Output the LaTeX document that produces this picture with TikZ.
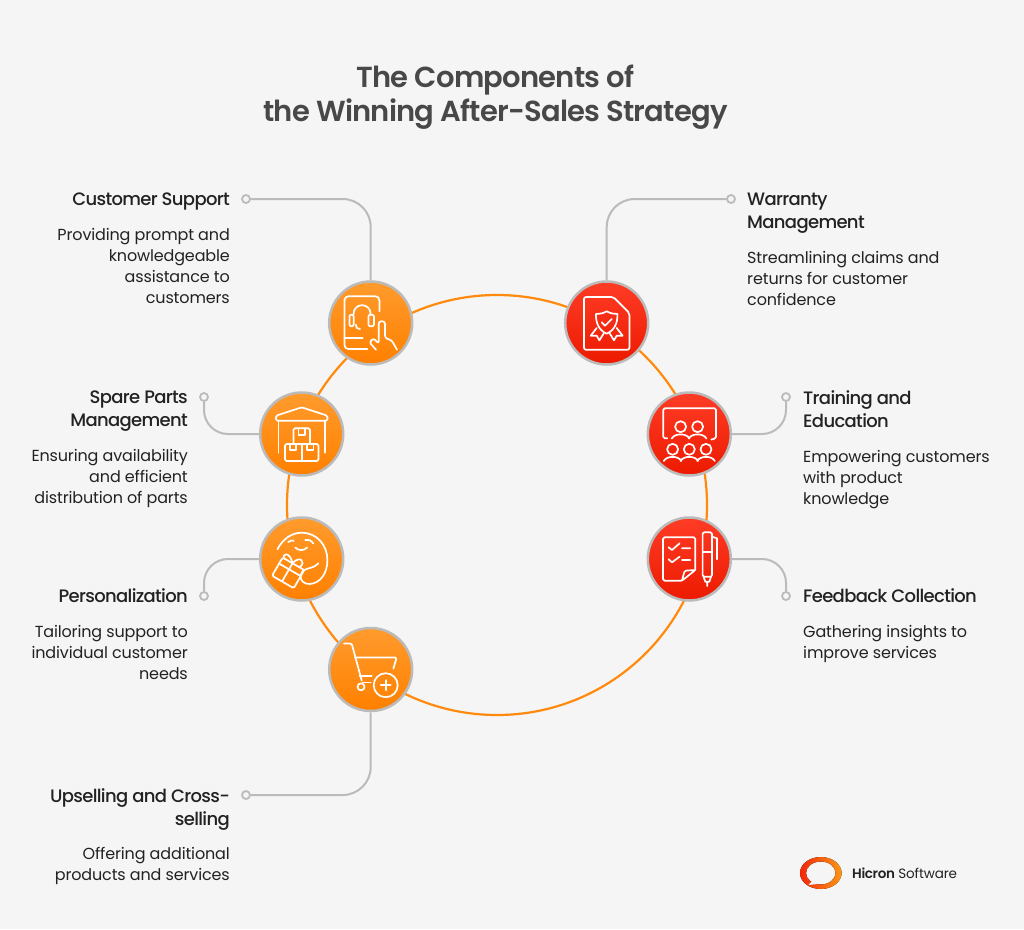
\documentclass[tikz,border=0pt]{standalone}
\usepackage{fontspec}
\setmainfont{Poppins}[LetterSpace=-0.9]
\newfontfamily\headfont{Poppins Medium}[LetterSpace=-3.7]
\newfontfamily\titlefont{Poppins SemiBold}[LetterSpace=-2.7]
\usetikzlibrary{positioning}
\usetikzlibrary{arrows.meta}
\definecolor{pagebg}{HTML}{F5F5F5}
\definecolor{ringline}{HTML}{FF8A0D}
\definecolor{linkgray}{HTML}{BBBBBB}
\definecolor{textdark}{HTML}{222222}
\definecolor{titlegray}{HTML}{484848}
\tikzset{
  % stations on the ring
  station/.style={circle, draw=linkgray, line width=2.5pt, minimum size=83pt, inner sep=0pt},
  warm/.style={station, top color={rgb,255:red,255;green,155;blue,45}, bottom color={rgb,255:red,255;green,128;blue,0}},
  hot/.style={station, top color={rgb,255:red,255;green,60;blue,38}, bottom color={rgb,255:red,236;green,26;blue,0}},
  dot/.style={circle, draw=linkgray, fill=pagebg, line width=1.8pt, minimum size=8pt, inner sep=0pt},
  link/.style={draw=linkgray, line width=2pt},
  iconline/.style={draw=white, line width=1.7pt, line cap=round, line join=round},
  % texts
  head/.style={inner sep=0pt, text=textdark, font=\headfont\fontsize{18}{23}\selectfont,
    execute at begin node=\strut, execute at end node=\strut},
  body/.style={inner sep=0pt, text=textdark, font=\fontsize{16}{21}\selectfont,
    execute at begin node=\strut, execute at end node=\strut},
  % icons
  pics/headset/.style={code={
    \draw[iconline, rounded corners=4pt] (8.7,-11.7) -- (8.7,-26.7) -- (-26.3,-26.7) -- (-26.3,26) -- (-3.3,26);
    \draw[iconline] (-26.3,15) -- (-8,15);
    \draw[iconline] (-17.3,-8.3) .. controls (-17.3,-21) and (0,-21) .. (0,-8.3);
    \draw[iconline, rounded corners=2pt] (-17,-8.3) -- (-21.3,-8.3) -- (-21.3,3.3) -- (-17,3.3) -- cycle;
    \draw[iconline, rounded corners=2pt] (-2.3,-8.3) -- (3.3,-8.3) -- (3.3,3.3) -- (-2.3,3.3) -- cycle;
    \draw[iconline] (-14.7,1.7) .. controls (-14.7,5) and (-13,6) .. (-10.7,6);
    \draw[iconline, rounded corners=2.5pt] (5.3,26.7) -- (-1.3,19.3) -- (2.7,15.2) -- (8,20.7) -- (8,-1.7) -- (14.3,-1.7) -- (14.3,15) -- (21,17.3) -- (26.3,26.7);
  }},
  pics/warehouse/.style={code={
    \draw[iconline, rounded corners=1.5pt] (-25.7,-13.3) -- (-25.7,-18.3) -- (0,-26.7) -- (25.7,-18.3) -- (25.7,-13.3) -- cycle;
    \draw[iconline] (-23.3,-13.3) -- (-23.3,18.7) (23.3,-13.3) -- (23.3,18.7);
    \draw[iconline, rounded corners=1.5pt] (-8.3,10) -- (-8.3,-5.7) -- (8.3,-5.7) -- (8.3,10);
    \draw[iconline, rounded corners=1.5pt] (-16.7,10) rectangle (16.7,27);
    \draw[iconline] (0,10) -- (0,27);
    \draw[iconline] (-3.3,-5.7) -- (-3.3,1) -- (3.3,1) -- (3.3,-5.7);
    \draw[iconline] (-11.7,10) -- (-11.7,16) -- (-5.7,16) -- (-5.7,10);
    \draw[iconline] (5,10) -- (5,16) -- (11.7,16) -- (11.7,10);
  }},
  pics/hug/.style={code={
    \draw[iconline] (-24.3,-9.7) .. controls (-19,-20) and (-10,-26.3) .. (0,-26.3) .. controls (15,-26.3) and (25.7,-14) .. (25.7,1) .. controls (25.7,14) and (19,24) .. (8.3,25) .. controls (2,25.5) and (-2,21) .. (-1,16) .. controls (0,11) and (5,10) .. (8,9) .. controls (12,8) and (15,6.5) .. (16.7,4.3);
    \draw[iconline] (-6.5,-11.5) .. controls (-3,-8) and (2,-8) .. (5.5,-11.5);
    \draw[iconline] (-13.5,-17) .. controls (-11,-18.8) and (-9,-18.8) .. (-8,-18.2);
    \draw[iconline] (3.5,-19) .. controls (7,-19.5) and (10,-18.5) .. (11.5,-15.5);
    \begin{scope}[shift={(-12.3,11.7)}, rotate=-30]
      \draw[iconline, rounded corners=1.5pt] (-12.5,-8) rectangle (12.5,13);
      \draw[iconline] (-12.5,-1) -- (12.5,-1) (-1,-8) -- (-1,13);
      \draw[iconline] (-1,-8) .. controls (-10,-18) and (-16,-10) .. (-10,-8);
      \draw[iconline] (-1,-8) .. controls (1,-19) and (11,-16) .. (7,-8);
    \end{scope}
  }},
  pics/cart/.style={code={
    \draw[iconline, rounded corners=1.5pt] (-26.7,-26) -- (-19,-26) -- (-9,11);
    \draw[iconline, rounded corners=1.5pt] (-15.7,-12) -- (26,-12) -- (22.7,-1);
    \draw[iconline] (-11,6.3) -- (1,6.3) (-8,13) -- (0,13);
    \draw[iconline] (-9.7,17.3) circle (3.5);
    \draw[iconline] (15,15.7) circle (12);
    \draw[iconline] (10,15.7) -- (20,15.7) (15,10.7) -- (15,20.7);
  }},
  pics/certificate/.style={code={
    \draw[iconline, rounded corners=2pt] (-22.7,-26) -- (6.7,-26) -- (22.7,-10) -- (22.7,26.7) -- (-22.7,26.7) -- cycle;
    \draw[iconline] (0,-11.7) .. controls (-4,-9.5) and (-7,-9) .. (-10.7,-9) .. controls (-11,0) and (-8,7) .. (0,10.7) .. controls (8,7) and (11,0) .. (10.7,-9) .. controls (7,-9) and (4,-9.5) .. (0,-11.7);
    \draw[iconline] (-5,-0.7) -- (-1.7,2.7) -- (5,-4);
    \draw[iconline] (-10,5) -- (-16,12.7) -- (-10,12.7) -- (-7.3,17.3) -- (-2.7,10);
    \draw[iconline] (10,5) -- (16,12.7) -- (10,12.7) -- (7.3,17.3) -- (2.7,10);
  }},
  pics/audience/.style={code={
    \draw[iconline, rounded corners=1.5pt] (-22,4.3) -- (-26,4.3) -- (-26,-25.7) -- (26.7,-25.7) -- (26.7,4.3) -- (22,5.5);
    \foreach \hx in {-8.7,8.3} {
      \draw[iconline] (\hx,-7.3) circle (5.5);
      \draw[iconline] (\hx-8.8,4.5) .. controls (\hx-6,-1) and (\hx+6,-1) .. (\hx+8.8,4.5);
    }
    \foreach \hx in {-16.7,0,16.7} {
      \draw[iconline] (\hx,15.3) circle (5.5);
      \draw[iconline] (\hx-8.8,27) .. controls (\hx-6,21.5) and (\hx+6,21.5) .. (\hx+8.8,27);
    }
  }},
  pics/survey/.style={code={
    \draw[iconline, rounded corners=1.5pt] (6,11) -- (6,-21.7) -- (-26.3,-21.7) -- (-26.3,21.7) -- (-7.3,21.7) -- (6,11) -- (-4.7,11.7) -- (-7.3,21.7);
    \draw[iconline] (-20.7,-11.7) -- (-17.3,-9) -- (-9.7,-15.7) (-7.3,-10.7) -- (1,-10.7);
    \draw[iconline] (-20.7,0.3) -- (-17.3,3.3) -- (-9.7,-2.3) (-7.3,1) -- (1,1);
    \draw[iconline, rounded corners=1.5pt] (13.3,17.7) -- (13.3,-26.7) -- (22.7,-26.7) -- (22.7,17.7) -- cycle;
    \draw[iconline] (13.3,-7.3) -- (22.7,-7.3);
    \draw[iconline] (22.7,-22.3) -- (27.7,-20.7) -- (27.7,0.3);
    \draw[iconline] (14.3,17.7) -- (16,22.7) -- (20,22.7) -- (21.7,17.7) (18,22.7) -- (18,27);
  }},
}

\begin{document}
\begin{tikzpicture}[x=1pt, y=-1pt]
  \useasboundingbox (0,0) rectangle (1024,929);
  \fill[pagebg] (0,0) rectangle (1024,929);

  % title
  \node[inner sep=0pt, text=titlegray, align=center, font=\titlefont\fontsize{29}{34}\selectfont] (title) at (495.5,97) {The Components of\\the Winning After-Sales Strategy};

  % ring
  \coordinate (hub) at (497,505);
  \draw[draw=ringline, line width=2.2pt] (hub) circle (210);

  % stations
  \node[warm] (support) at (370.7,323) {};
  \node[warm] (parts) at (301.7,434) {};
  \node[warm] (personal) at (301.7,559) {};
  \node[warm] (upsell) at (370.7,669.5) {};
  \node[hot] (warranty) at (606.7,323) {};
  \node[hot] (training) at (689.3,434) {};
  \node[hot] (feedback) at (689.3,559) {};

  \pic at (support) {headset};
  \pic at (parts) {warehouse};
  \pic at (personal) {hug};
  \pic at (upsell) {cart};
  \pic at (warranty) {certificate};
  \pic at (training) {audience};
  \pic at (feedback) {survey};

  % end dots
  \node[dot] (supportdot) at (246,199) {};
  \node[dot] (partsdot) at (204,397) {};
  \node[dot] (personaldot) at (204,596) {};
  \node[dot] (upselldot) at (246,795) {};
  \node[dot] (warrantydot) at (731,199) {};
  \node[dot] (trainingdot) at (786,397) {};
  \node[dot] (feedbackdot) at (786,596) {};

  \draw[link, rounded corners=28pt] (support.north) |- (supportdot);
  \draw[link, rounded corners=24pt] (parts.west) -| (partsdot);
  \draw[link, rounded corners=24pt] (personal.west) -| (personaldot);
  \draw[link, rounded corners=28pt] (upsell.south) |- (upselldot);
  \draw[link, rounded corners=28pt] (warranty.north) |- (warrantydot);
  \draw[link, rounded corners=24pt] (training.east) -| (trainingdot);
  \draw[link, rounded corners=24pt] (feedback.east) -| (feedbackdot);

  % left side
  \node[head, anchor=north east, align=right] (supporthead) at (230,189.4) {Customer Support};
  \node[body, below=15.6pt of supporthead.south east, anchor=north east, align=right] (supportbody) {Providing prompt and\\knowledgeable\\assistance to\\customers};
  \node[head, anchor=north east, align=right] (partshead) at (188,390.4) {Spare Parts\\Management};
  \node[body, below=15.6pt of partshead.south east, anchor=north east, align=right] (partsbody) {Ensuring availability\\and efficient\\distribution of parts};
  \node[head, anchor=north east, align=right] (personalhead) at (188,586.4) {Personalization};
  \node[body, below=15.6pt of personalhead.south east, anchor=north east, align=right] (personalbody) {Tailoring support to\\individual customer\\needs};
  \node[head, anchor=north east, align=right] (upsellhead) at (230,788) {Upselling and Cross-\\selling};
  \node[body, below=15pt of upsellhead.south east, anchor=north east, align=right] (upsellbody) {Offering additional\\products and services};

  % right side
  \node[head, anchor=north west, align=left] (warrantyhead) at (747,192.4) {Warranty\\Management};
  \node[body, below=15.6pt of warrantyhead.south west, anchor=north west, align=left] (warrantybody) {Streamlining claims and\\returns for customer\\confidence};
  \node[head, anchor=north west, align=left] (traininghead) at (803,390.4) {Training and\\Education};
  \node[body, below=15.6pt of traininghead.south west, anchor=north west, align=left] (trainingbody) {Empowering customers\\with product\\knowledge};
  \node[head, anchor=north west, align=left] (feedbackhead) at (803,586.4) {Feedback Collection};
  \node[body, below=15.6pt of feedbackhead.south west, anchor=north west, align=left] (feedbackbody) {Gathering insights to\\improve services};

  % logo
  \fill[even odd rule, left color={rgb,255:red,240;green,40;blue,10}, right color={rgb,255:red,255;green,150;blue,20}] (820.8,873) ellipse (20.8 and 16) (820.8,873) ellipse (14.8 and 11.5);
  \fill[pagebg] (808.5,885) -- (813,880) -- (817,884) -- cycle;
  \node[inner sep=0pt, anchor=west, text=textdark, font=\fontsize{13.5}{16}\selectfont] (brand) at (852,873.5) {{\titlefont Hicron} Software};
\end{tikzpicture}
\end{document}
